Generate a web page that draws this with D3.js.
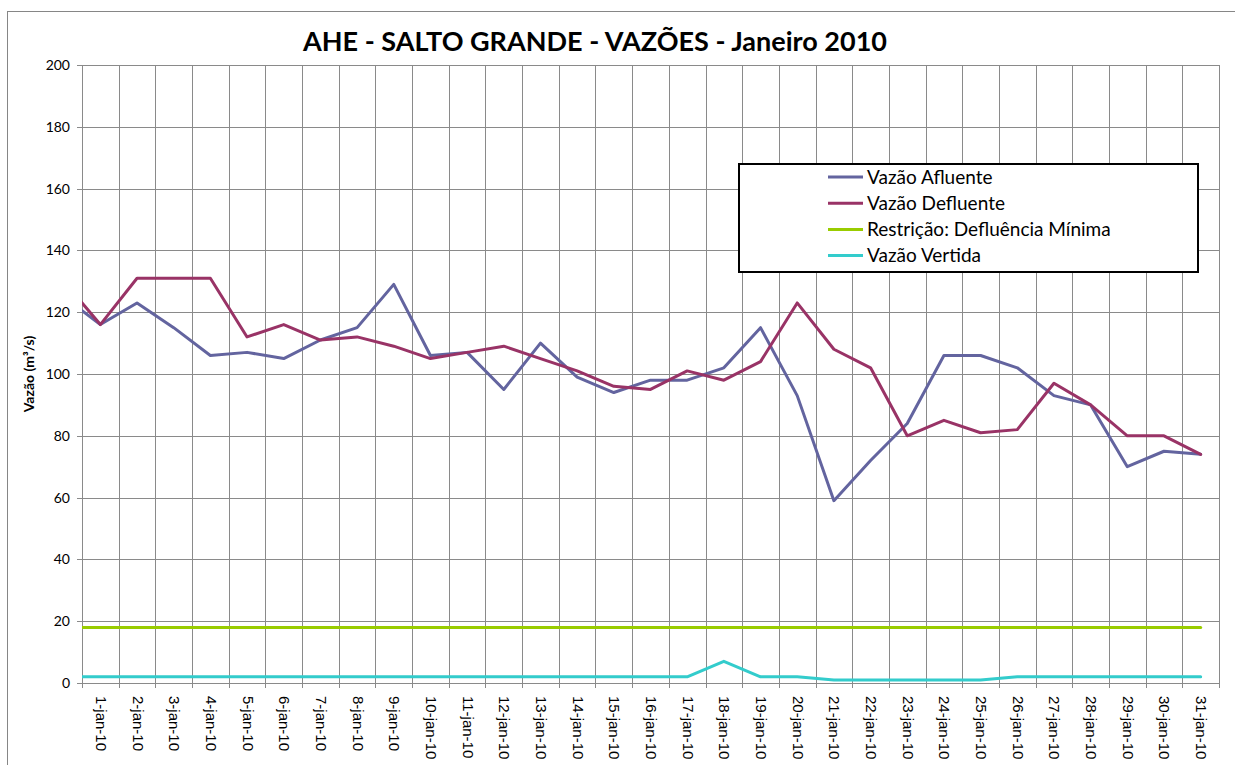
<!DOCTYPE html>
<html>
<head>
<meta charset="utf-8">
<script src="https://cdn.jsdelivr.net/npm/d3@7"></script>
<style>
  html, body { margin: 0; padding: 0; background: #fff; }
  svg { display: block; }
</style>
</head>
<body>
<svg id="chart" width="1235" height="765"></svg>
<script>
// ---- data (index 0 = 31-dez-09, clipped at the left edge of the plot) ----
const dates = ["31-dec-09","1-jan-10","2-jan-10","3-jan-10","4-jan-10","5-jan-10","6-jan-10","7-jan-10","8-jan-10","9-jan-10","10-jan-10","11-jan-10","12-jan-10","13-jan-10","14-jan-10","15-jan-10","16-jan-10","17-jan-10","18-jan-10","19-jan-10","20-jan-10","21-jan-10","22-jan-10","23-jan-10","24-jan-10","25-jan-10","26-jan-10","27-jan-10","28-jan-10","29-jan-10","30-jan-10","31-jan-10"];
const afluente  = [125,116,123,115,106,107,105,111,115,129,106,107,95,110,99,94,98,98,102,115,93,59,72,84,106,106,102,93,90,70,75,74];
const defluente = [130,116,131,131,131,112,116,111,112,109,105,107,109,105,101,96,95,101,98,104,123,108,102,80,85,81,82,97,90,80,80,74];
const restricao = [18,18,18,18,18,18,18,18,18,18,18,18,18,18,18,18,18,18,18,18,18,18,18,18,18,18,18,18,18,18,18,18];
const vertida   = [2,2,2,2,2,2,2,2,2,2,2,2,2,2,2,2,2,2,7,2,2,1,1,1,1,1,2,2,2,2,2,2];
const yTicks = [0,20,40,60,80,100,120,140,160,180,200];
const seriesNames = ["Vazão Afluente","Vazão Defluente","Restrição: Defluência Mínima","Vazão Vertida"];
const seriesColors = ["#63649f","#993366","#99cc00","#33cccc"];
const title = "AHE - SALTO GRANDE - VAZÕES - Janeiro 2010";
const yTitle = "Vazão (m³/s)";

const svg = d3.select("#chart");
const L = 82, R = 1219, T = 65, B = 683;

// outer chart border
svg.append("rect").attr("x", 7.5).attr("y", 11.5).attr("width", 1240).attr("height", 770)
  .attr("fill", "#fff").attr("stroke", "#868686").attr("stroke-width", 1);

const x = d3.scaleLinear().domain([0.5, dates.length - 0.5]).range([L, R]);
const y = d3.scaleLinear().domain([0, 200]).range([B, T]);

const catIdx = d3.range(1, dates.length);          // visible categories
const bounds = d3.range(0.5, dates.length, 1);     // category boundaries

// vertical gridlines
svg.append("g").attr("transform", `translate(0,${B})`)
  .call(d3.axisBottom(x).tickValues(bounds).tickSize(-(B - T)).tickFormat(""))
  .call(g => g.select(".domain").remove())
  .call(g => g.selectAll("line").attr("stroke", "#8a8a8a").attr("shape-rendering", "crispEdges"));
// horizontal gridlines
svg.append("g").attr("transform", `translate(${L},0)`)
  .call(d3.axisLeft(y).tickValues(yTicks).tickSize(-(R - L)).tickFormat(""))
  .call(g => g.select(".domain").remove())
  .call(g => g.selectAll("line").attr("stroke", "#8a8a8a").attr("shape-rendering", "crispEdges"));

// y axis
svg.append("g").attr("transform", `translate(${L},0)`)
  .call(d3.axisLeft(y).tickValues(yTicks).tickSize(5).tickPadding(7))
  .call(g => g.select(".domain").attr("stroke", "#8a8a8a").attr("shape-rendering", "crispEdges"))
  .call(g => g.selectAll("line").attr("stroke", "#8a8a8a").attr("shape-rendering", "crispEdges"))
  .call(g => g.selectAll("text").attr("font-family", "Lato, 'Open Sans', sans-serif")
      .attr("font-size", 14).attr("fill", "#000"));

// x axis boundary ticks
svg.append("g").attr("transform", `translate(0,${B})`)
  .call(d3.axisBottom(x).tickValues(bounds).tickSize(5).tickSizeOuter(0).tickFormat(""))
  .call(g => g.select(".domain").attr("stroke", "#8a8a8a").attr("shape-rendering", "crispEdges"))
  .call(g => g.selectAll("line").attr("stroke", "#8a8a8a").attr("shape-rendering", "crispEdges"));
// x axis labels (rotated)
svg.append("g").attr("transform", `translate(0,${B})`)
  .call(d3.axisBottom(x).tickValues(catIdx).tickSize(0).tickFormat(i => dates[i]))
  .call(g => g.select(".domain").remove())
  .call(g => g.selectAll("text")
      .attr("font-family", "'Liberation Sans', Arial, sans-serif").attr("font-size", 15).attr("fill", "#000")
      .attr("text-anchor", "start").attr("dy", null).attr("y", 0)
      .attr("transform", "translate(-5,13) rotate(90)"));

// clip for the series
svg.append("clipPath").attr("id", "plotclip")
  .append("rect").attr("x", L).attr("y", T - 10).attr("width", R - L).attr("height", B - T + 20);

const line = d3.line().x((d, i) => x(i)).y(d => y(d));
const plot = svg.append("g").attr("clip-path", "url(#plotclip)");
[restricao, vertida, afluente, defluente].forEach((s, k) => {
  const ci = [2, 3, 0, 1][k];
  plot.append("path").datum(s).attr("d", line).attr("fill", "none")
    .attr("stroke", seriesColors[ci]).attr("stroke-width", 3)
    .attr("stroke-linejoin", "round").attr("stroke-linecap", "round");
});

// title
svg.append("text").attr("x", 595).attr("y", 51).attr("text-anchor", "middle")
  .attr("font-family", "Lato, 'Open Sans', sans-serif").attr("font-weight", "bold").attr("font-size", 27)
  .attr("textLength", 584).attr("lengthAdjust", "spacingAndGlyphs")
  .text(title);

// y title
svg.append("text").attr("transform", "translate(34,374) rotate(-90)").attr("text-anchor", "middle")
  .attr("font-family", "Lato, 'Open Sans', sans-serif").attr("font-weight", "bold").attr("font-size", 14)
  .text(yTitle);

// legend
const lg = svg.append("g");
lg.append("rect").attr("x", 739).attr("y", 164).attr("width", 459).attr("height", 108)
  .attr("fill", "#fff").attr("stroke", "#000").attr("stroke-width", 2);
seriesNames.forEach((n, i) => {
  const cy = 177 + i * 26.2;
  lg.append("line").attr("x1", 828).attr("x2", 863).attr("y1", cy).attr("y2", cy)
    .attr("stroke", seriesColors[i]).attr("stroke-width", 3);
  lg.append("text").attr("x", 867).attr("y", cy + 6.5)
    .attr("font-family", "Lato, 'Open Sans', sans-serif").attr("font-size", 19).attr("fill", "#000")
    .text(n);
});
</script>
</body>
</html>
